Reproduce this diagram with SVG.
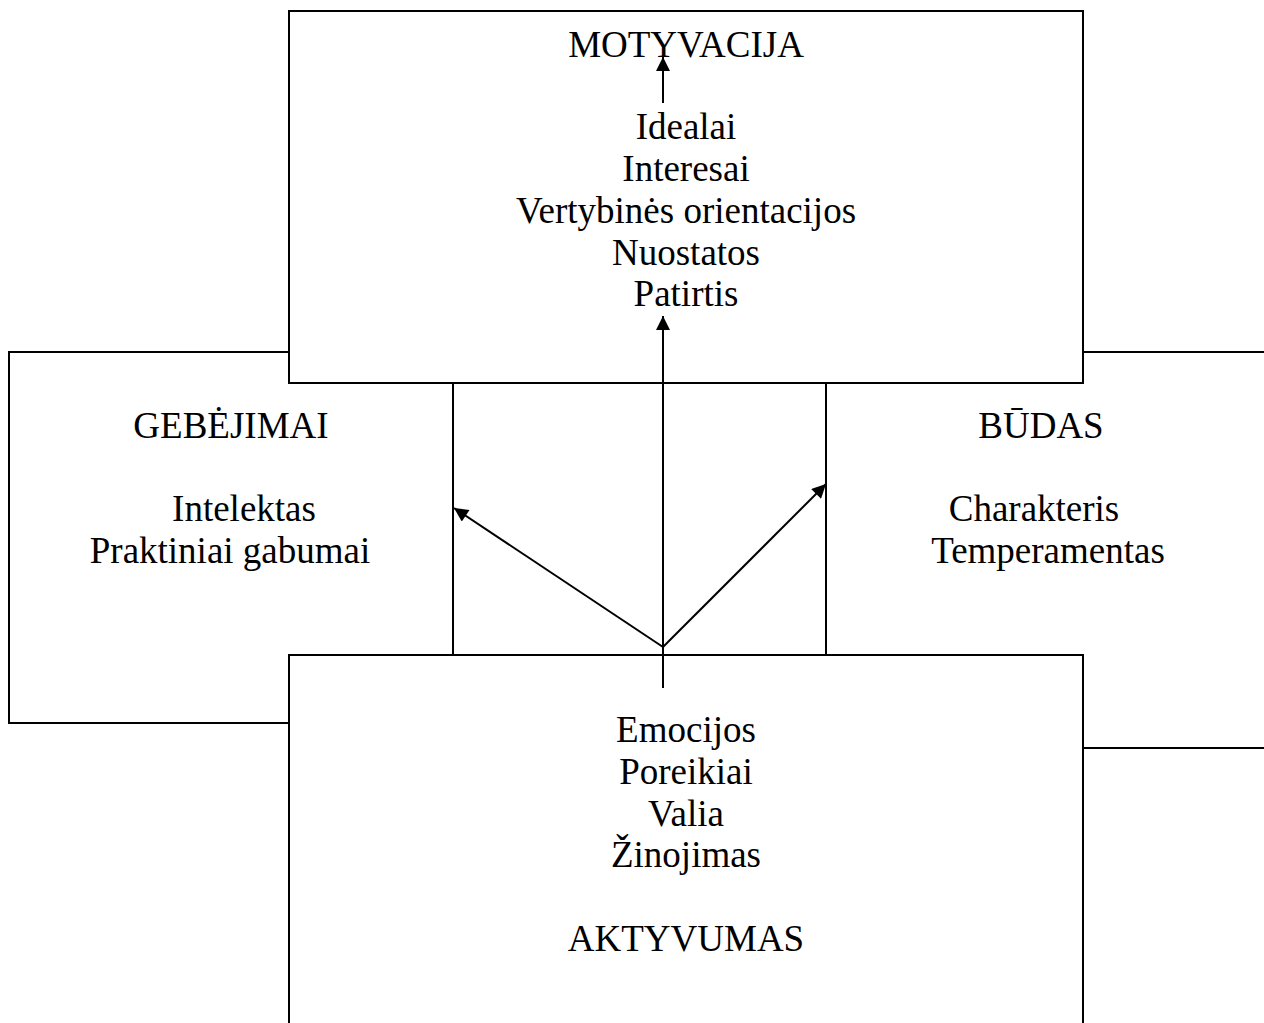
<svg xmlns="http://www.w3.org/2000/svg" width="1264" height="1023" viewBox="0 0 1264 1023">
<defs>
<marker id="ah" viewBox="0 0 10 10" refX="10" refY="5" markerWidth="7.5" markerHeight="7" orient="auto" markerUnits="strokeWidth">
<path d="M0,0 L10,5 L0,10 z" fill="#000"/>
</marker>
<style>
.box{fill:#fff;stroke:#000;stroke-width:2}
.ln{fill:none;stroke:#000;stroke-width:2}
text{font-family:"Liberation Serif","Times New Roman",serif;font-size:37px;fill:#000;text-anchor:middle}
</style>
</defs>
<rect width="1264" height="1023" fill="#fff"/>
<g id="gebejimai">
<rect class="box" x="9" y="352" width="444" height="371"/>
<text x="231" y="438">GEBĖJIMAI</text>
<text x="244" y="521">Intelektas</text>
<text x="230" y="563">Praktiniai gabumai</text>
</g>
<g id="budas">
<rect class="box" x="826" y="352" width="460" height="396"/>
<text x="1041" y="438">BŪDAS</text>
<text x="1034" y="521">Charakteris</text>
<text x="1048" y="563">Temperamentas</text>
</g>
<g id="motyvacija">
<rect class="box" x="289" y="11" width="794" height="372"/>
<text x="686" y="57">MOTYVACIJA</text>
<text x="686" y="139">Idealai</text>
<text x="686" y="181">Interesai</text>
<text x="686" y="223">Vertybinės orientacijos</text>
<text x="686" y="265">Nuostatos</text>
<text x="686" y="306">Patirtis</text>
</g>
<g id="aktyvumas">
<rect class="box" x="289" y="655" width="794" height="400"/>
<text x="686" y="742">Emocijos</text>
<text x="686" y="784">Poreikiai</text>
<text x="686" y="826">Valia</text>
<text x="686" y="867">Žinojimas</text>
<text x="686" y="951">AKTYVUMAS</text>
</g>
<g id="connectors">
<line class="ln" x1="663" y1="688" x2="663" y2="316" marker-end="url(#ah)"/>
<line class="ln" x1="663" y1="647" x2="454" y2="508" marker-end="url(#ah)"/>
<line class="ln" x1="663" y1="647" x2="826" y2="484" marker-end="url(#ah)"/>
<line class="ln" x1="663" y1="103" x2="663" y2="57" marker-end="url(#ah)"/>
</g>
</svg>
